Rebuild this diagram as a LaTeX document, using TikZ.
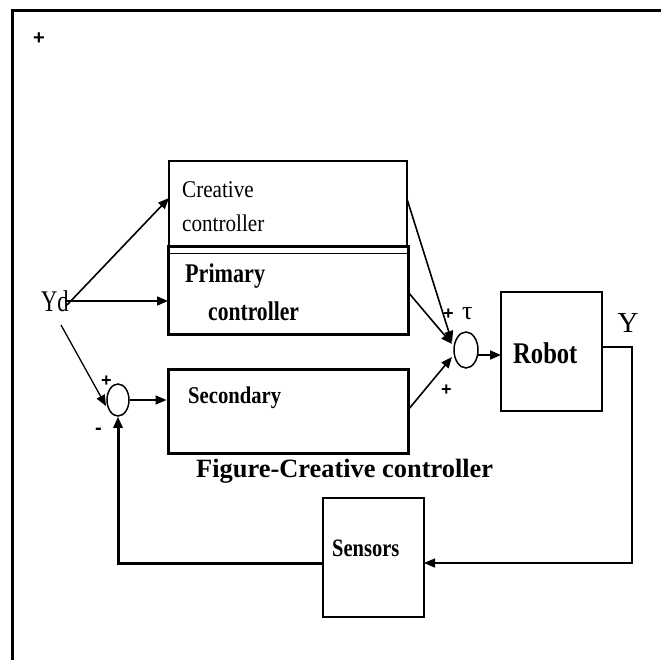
\documentclass[tikz,border=0pt]{standalone}
\usepackage{fontspec}
\setmainfont{Liberation Serif}
\newfontfamily\plusfont{Liberation Sans}
\usepackage{graphicx}
\usetikzlibrary{arrows.meta,shapes.geometric}
\newcommand{\tx}[3]{{\fontsize{#1}{#1}\selectfont\scalebox{#2}[1]{#3}}}
\newcommand{\pl}[1]{{\plusfont\bfseries\fontsize{#1}{#1}\selectfont +}}
\begin{document}
\begin{tikzpicture}[x=1pt,y=-1pt,
  thinbox/.style={draw,line width=1.3pt,inner sep=0pt},
  thickbox/.style={draw,line width=3pt,inner sep=0pt},
  sumj/.style={draw,ellipse,line width=1.5pt,inner sep=0pt},
  lbl/.style={inner sep=0pt,anchor=base west},
  conn/.style={line width=1.6pt,-{Triangle[length=11pt,width=9pt]}},
]
\useasboundingbox (0,0) rectangle (661,660);
% frame
\draw[line width=3pt] (12.5,662) -- (12.5,11) -- (663,11);
\node[lbl] (plus0) at (33,45) {\pl{20}};
% boxes
\node[thinbox,minimum width=238pt,minimum height=86pt] (creative) at (288,204) {};
\node[thickbox,minimum width=240pt,minimum height=87pt] (primary) at (288,290.5) {};
\draw[line width=1pt] (primary.west |- 0,254) -- (primary.east |- 0,254);
\node[thickbox,minimum width=240pt,minimum height=84pt] (secondary) at (288,411) {};
\node[thinbox,minimum width=101pt,minimum height=119pt] (robot) at (551.5,351.5) {};
\node[thinbox,minimum width=101pt,minimum height=119pt] (sensors) at (373.5,557.5) {};
% junctions
\node[sumj,minimum width=22pt,minimum height=32pt] (j1) at (118,400) {};
\node[sumj,minimum width=24pt,minimum height=36pt] (j2) at (466,350) {};
% texts
\node[lbl] (tcr1) at (182,198) {\tx{24}{0.88}{Creative}};
\node[lbl] (tcr2) at (182,232) {\tx{24}{0.88}{controller}};
\node[lbl] (tpr1) at (185,283) {\tx{27}{0.82}{\bfseries Primary}};
\node[lbl] (tpr2) at (208,320) {\tx{27}{0.8}{\bfseries controller}};
\node[lbl] (tsec) at (188,403) {\tx{24}{0.86}{\bfseries Secondary}};
\node[lbl] (tsen) at (332,556) {\tx{25}{0.82}{\bfseries Sensors}};
\node[lbl] (trob) at (513,363) {\tx{30}{0.82}{\bfseries Robot}};
\node[lbl] (tyd) at (41,312) {\tx{30}{0.75}{Yd}};
\node[inner sep=0pt,anchor=base] (ty) at (628,332) {\tx{29}{1}{Y}};
\node[lbl] (tp1) at (101,386) {\pl{18}};
\node[lbl] (tm1) at (95,434) {{\plusfont\bfseries\fontsize{20}{20}\selectfont -}};
\node[lbl] (tp2) at (443,319) {\pl{18}};
\node[lbl] (ttau) at (462,319) {\tx{26}{1}{τ}};
\node[lbl] (tp3) at (441,395) {\pl{18}};
\node[lbl] (cap) at (196,477) {\fontsize{26.4}{26.4}\selectfont\bfseries Figure-Creative controller};
% connection points
\coordinate (yd1) at (67,305);
\coordinate (yd2) at (65,301);
\coordinate (yd3) at (61,325);
\coordinate (crin) at (169,198);
\coordinate (prin) at (168,301);
\coordinate (j1in) at (106,406);
\coordinate (crout) at (407,199);
\coordinate (prout) at (408,292);
\coordinate (seout) at (408,410);
\coordinate (j2a) at (452,342);
\coordinate (j2b) at (452,344);
\coordinate (j2c) at (452,357);
\coordinate (j2out) at (478,355);
\coordinate (robin) at (501,355);
\coordinate (yout) at (602,347);
\coordinate (ycorner) at (632,563);
\coordinate (sensin) at (424,563);
\coordinate (sensout) at (323,563);
% connectors
\draw[conn] (yd1) -- (crin);
\draw[conn] (yd2) -- (prin);
\draw[conn,line width=1.3pt] (yd3) -- (j1in);
\draw[conn] (j1.east) -- (secondary.west |- j1.east);
\draw[conn] (crout) -- (j2a);
\draw[conn] (prout) -- (j2b);
\draw[conn] (seout) -- (j2c);
\draw[conn] (j2out) -- (robin);
\draw[line width=1.3pt,-{Triangle[length=11pt,width=9pt]}] (yout) -| (ycorner) -- (sensin);
\draw[line width=3pt,-{Triangle[length=11pt,width=9pt]}] (sensout) -| (j1.south);
\end{tikzpicture}
\end{document}
